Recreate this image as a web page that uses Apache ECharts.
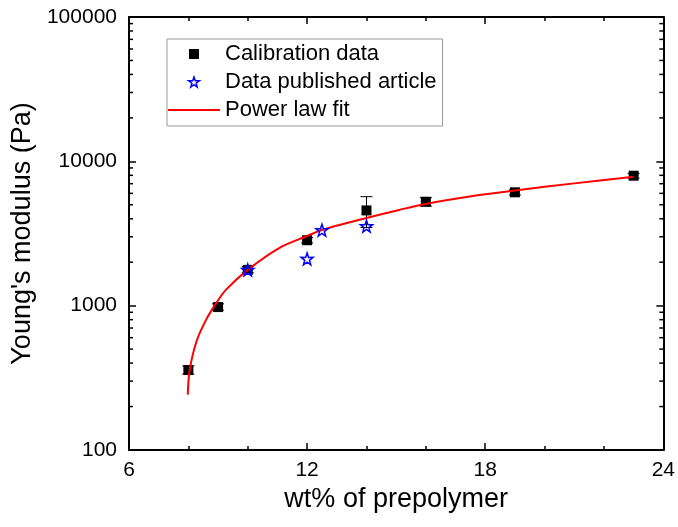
<!DOCTYPE html>
<html><head><meta charset="utf-8">
<script src="https://cdn.jsdelivr.net/npm/echarts@6/dist/echarts.min.js"></script>
<style>html,body{margin:0;padding:0;background:#fff}#c{width:678px;height:527px}</style>
</head><body><div id="c"></div><script>
// Calibration data (black squares) with error bars
const calibX = [8, 9, 10, 12, 14, 16, 19, 23];
const calibY = [358, 978, 1770, 2840, 4570, 5250, 6100, 7950];
const calibLow = [336, 930, 1690, 2720, 3480, 4900, 5850, 7650];
const calibHigh = [382, 1030, 1860, 2960, 5690, 5600, 6350, 8250];
// Data published article (blue stars)
const pubX = [10, 12, 12.5, 14];
const pubY = [1770, 2110, 3335, 3555];
// Power law fit
const fitX = [7.98, 8.04, 8.27, 8.6, 8.97, 9.27, 10.0, 11.07, 12.0, 12.47, 14.0, 15.1, 16.0, 17.8, 19.0, 21.0, 23.0];
const fitY = [242, 354, 562, 800, 1066, 1292, 1770, 2516, 3038, 3334, 4052, 4605, 5069, 5834, 6289, 7035, 7805];
// log-axis minor tick values
const yMinorTicks = [200,300,400,500,600,700,800,900,2000,3000,4000,5000,6000,7000,8000,9000,20000,30000,40000,50000,60000,70000,80000,90000];
const xTickInterval = 6;

const FONT = 'Liberation Sans, Arial, sans-serif';
const STAR = 'path://M50,0 L61.8,35.1 L98.1,34.5 L69.1,56.4 L79.4,91.0 L50,70 L20.6,91 L30.9,56.4 L1.9,34.5 L38.2,35.1 Z';
const SQUARE_ICON = 'path://M0,0 L10,0 L10,10 L0,10 Z';
const LINE_ICON = 'path://M0,0 L52,0 L52,2 L0,2 Z';

const chart = echarts.init(document.getElementById('c'), null, {renderer: 'canvas'});

const xCommon = {
  type: 'value', min: 6, max: 24, interval: xTickInterval,
  axisLine: {show: true, onZero: false, lineStyle: {color: '#000', width: 2}},
  axisTick: {show: true, inside: true, length: 7, lineStyle: {color: '#000', width: 1.5}},
  minorTick: {show: true, splitNumber: 3, length: 4, lineStyle: {color: '#000', width: 1.5}},
  splitLine: {show: false}
};
const yCommon = {
  type: 'log', logBase: 10, min: 100, max: 100000,
  axisLine: {show: true, onZero: false, lineStyle: {color: '#000', width: 2}},
  axisTick: {show: true, inside: true, length: 7, lineStyle: {color: '#000', width: 1.5}},
  splitLine: {show: false}
};

const option = {
  backgroundColor: '#fff',
  animation: false,
  grid: {left: 129, right: 12, top: 17, bottom: 77},
  legend: {
    left: 167, top: 39, orient: 'vertical',
    padding: [4, 6, 5, 1],
    borderColor: '#999', borderWidth: 1,
    itemWidth: 52, itemHeight: 10, itemGap: 6, itemTextGap: 6,
    textStyle: {fontFamily: FONT, fontSize: 22, color: '#000', lineHeight: 22},
    data: [
      {name: 'Calibration data', icon: SQUARE_ICON},
      {name: 'Data published article', icon: STAR,
        itemStyle: {color: 'rgba(0,0,0,0)', borderColor: '#0000ff', borderWidth: 1.5}},
      {name: 'Power law fit', icon: LINE_ICON}
    ]
  },
  xAxis: [
    Object.assign({}, xCommon, {
      position: 'bottom',
      name: 'wt% of prepolymer', nameLocation: 'middle', nameGap: 34,
      nameTextStyle: {fontFamily: FONT, fontSize: 27, color: '#000'},
      axisLabel: {show: true, margin: 10, fontFamily: FONT, fontSize: 21, color: '#000'}
    }),
    Object.assign({}, xCommon, {position: 'top', axisLabel: {show: false}})
  ],
  yAxis: [
    Object.assign({}, yCommon, {
      position: 'left',
      name: "Young's modulus (Pa)", nameLocation: 'middle', nameGap: 78,
      nameTextStyle: {fontFamily: FONT, fontSize: 27, color: '#000'},
      axisLabel: {show: true, margin: 12, fontFamily: FONT, fontSize: 21, color: '#000',
        formatter: function (v) { return String(Math.round(v)); }}
    }),
    Object.assign({}, yCommon, {position: 'right', axisLabel: {show: false}})
  ],
  series: [
    {
      name: 'minorY', type: 'custom', silent: true, clip: false, z: 5,
      xAxisIndex: 0, yAxisIndex: 0,
      data: yMinorTicks.map(v => [6, v]),
      encode: {x: 0, y: 1},
      renderItem: function (params, api) {
        const v = api.value(1);
        const l = api.coord([6, v]);
        const r = api.coord([24, v]);
        return {type: 'group', children: [
          {type: 'line', shape: {x1: l[0], y1: l[1], x2: l[0] + 4, y2: l[1]}, style: {stroke: '#000', lineWidth: 1.5}},
          {type: 'line', shape: {x1: r[0], y1: r[1], x2: r[0] - 4, y2: r[1]}, style: {stroke: '#000', lineWidth: 1.5}}
        ]};
      }
    },
    {
      name: 'errbars', type: 'custom', silent: true, z: 2,
      data: calibX.map((x, i) => [x, calibY[i], calibLow[i], calibHigh[i]]),
      encode: {x: 0, y: [1, 2, 3]},
      renderItem: function (params, api) {
        const x = api.value(0);
        const lo = api.coord([x, api.value(2)]);
        const hi = api.coord([x, api.value(3)]);
        const w = 6;
        const st = {stroke: '#000', lineWidth: 1};
        return {type: 'group', children: [
          {type: 'line', shape: {x1: lo[0], y1: lo[1], x2: hi[0], y2: hi[1]}, style: st},
          {type: 'line', shape: {x1: lo[0] - w, y1: lo[1], x2: lo[0] + w, y2: lo[1]}, style: st},
          {type: 'line', shape: {x1: hi[0] - w, y1: hi[1], x2: hi[0] + w, y2: hi[1]}, style: st}
        ]};
      }
    },
    {
      name: 'Calibration data', type: 'scatter', z: 3,
      symbol: 'rect', symbolSize: 10,
      itemStyle: {color: '#000', opacity: 1},
      data: calibX.map((x, i) => [x, calibY[i]])
    },
    {
      name: 'Power law fit', type: 'line', z: 4,
      symbol: 'none', smooth: 0.3,
      lineStyle: {color: '#ff0000', width: 2},
      itemStyle: {color: '#ff0000'},
      data: fitX.map((x, i) => [x, fitY[i]])
    },
    {
      name: 'Data published article', type: 'scatter', z: 6,
      symbol: STAR, symbolSize: 12,
      itemStyle: {color: 'rgba(0,0,0,0)', borderColor: '#0000ff', borderWidth: 1.5, opacity: 1},
      data: pubX.map((x, i) => [x, pubY[i]])
    }
  ]
};
chart.setOption(option);
</script></body></html>
